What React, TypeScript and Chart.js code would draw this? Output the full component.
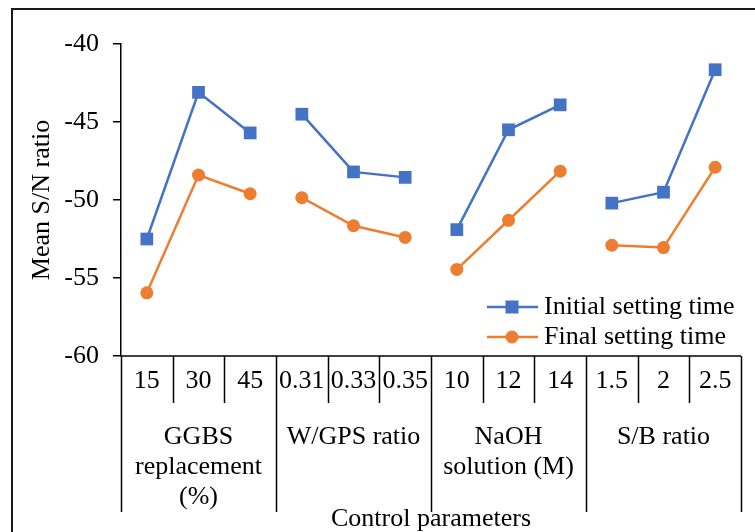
import React, { useEffect, useRef } from "react";
import { Chart, registerables } from "chart.js";

Chart.register(...registerables);

const levels = ["15", "30", "45", "0.31", "0.33", "0.35", "10", "12", "14", "1.5", "2", "2.5"];
const groups = [["GGBS", "replacement", "(%)"], ["W/GPS ratio"], ["NaOH", "solution (M)"], ["S/B ratio"]];
const initialSetting = [-52.5, -43.1, -45.7, -44.5, -48.2, -48.55, -51.9, -45.5, -43.9, -50.2, -49.5, -41.65];
const finalSetting = [-55.95, -48.4, -49.6, -49.85, -51.65, -52.4, -54.45, -51.3, -48.15, -52.9, -53.05, -47.9];
const yTicks = [-60, -55, -50, -45, -40];
const seriesNames = ["Initial setting time", "Final setting time"];
const xTitle = "Control parameters";
const yTitle = "Mean S/N ratio";

const BLUE = "#4472C4";
const ORANGE = "#ED7D31";
const FAMILY = "'Liberation Serif', 'Times New Roman', serif";
const FONT = "26px " + FAMILY;

const drawPlugin = {
  id: "customDraw",
  beforeDraw(chart: any) {
    const ctx = chart.ctx;
    ctx.save();
    ctx.fillStyle = "#ffffff";
    ctx.fillRect(0, 0, chart.width, chart.height);
    ctx.restore();
  },
  afterDraw(chart: any) {
    const ctx = chart.ctx;
    const area = chart.chartArea;
    const x = chart.scales.x;
    const n = levels.length;
    const step = (area.right - area.left) / n;
    ctx.save();
    // outer border
    ctx.strokeStyle = "#1a1a1a";
    ctx.lineWidth = 2;
    ctx.strokeRect(12, 9, 800, 600);
    // x axis line
    ctx.strokeStyle = "#000";
    ctx.lineWidth = 1.5;
    ctx.beginPath();
    ctx.moveTo(area.left, area.bottom);
    ctx.lineTo(area.right, area.bottom);
    ctx.stroke();
    // separators
    for (let i = 0; i <= n; i++) {
      const px = Math.round(x.getPixelForValue(i) - step / 2) + 0.5;
      const isGroup = i % 3 === 0;
      ctx.beginPath();
      ctx.moveTo(px, area.bottom);
      ctx.lineTo(px, isGroup ? area.bottom + 156 : area.bottom + 47);
      ctx.stroke();
    }
    // tick labels
    ctx.fillStyle = "#000";
    ctx.font = FONT;
    ctx.textAlign = "center";
    ctx.textBaseline = "middle";
    levels.forEach((lab, i) => {
      ctx.fillText(lab, x.getPixelForValue(i), area.bottom + 25);
    });
    // group labels
    groups.forEach((g, gi) => {
      const cx = x.getPixelForValue(gi * 3 + 1);
      g.forEach((line, li) => {
        ctx.fillText(line, cx, area.bottom + 81 + li * 30);
      });
    });
    // x title
    ctx.fillText(xTitle, (area.left + area.right) / 2, area.bottom + 163);
    // y title
    ctx.save();
    ctx.translate(42, (area.top + area.bottom) / 2);
    ctx.rotate(-Math.PI / 2);
    ctx.fillText(yTitle, 0, 0);
    ctx.restore();
    // legend
    const items = [
      { name: seriesNames[0], color: BLUE, style: "rect", y: 307 },
      { name: seriesNames[1], color: ORANGE, style: "circle", y: 337 },
    ];
    items.forEach((it) => {
      ctx.strokeStyle = it.color;
      ctx.lineWidth = 2.5;
      ctx.beginPath();
      ctx.moveTo(487, it.y);
      ctx.lineTo(538, it.y);
      ctx.stroke();
      ctx.fillStyle = it.color;
      if (it.style === "rect") {
        ctx.fillRect(512 - 6.5, it.y - 6.5, 13, 13);
      } else {
        ctx.beginPath();
        ctx.arc(512, it.y, 6.5, 0, Math.PI * 2);
        ctx.fill();
      }
      ctx.fillStyle = "#000";
      ctx.textAlign = "left";
      ctx.fillText(it.name, 544, it.y);
    });
    ctx.restore();
  },
};

function segColor(color: string) {
  return (c: any) => (c.p0DataIndex % 3 === 2 ? "rgba(0,0,0,0)" : color);
}

export default function App() {
  const ref = useRef<HTMLCanvasElement | null>(null);
  useEffect(() => {
    if (!ref.current) return;
    const chart = new Chart(ref.current, {
      type: "line",
      data: {
        labels: levels,
        datasets: [
          {
            label: seriesNames[0],
            data: initialSetting,
            borderColor: BLUE,
            backgroundColor: BLUE,
            borderWidth: 2.5,
            pointStyle: "rect",
            pointRadius: 9,
            pointHoverRadius: 9,
            pointBorderWidth: 0,
            segment: { borderColor: segColor(BLUE) },
          },
          {
            label: seriesNames[1],
            data: finalSetting,
            borderColor: ORANGE,
            backgroundColor: ORANGE,
            borderWidth: 2.5,
            pointStyle: "circle",
            pointRadius: 6.5,
            pointHoverRadius: 6.5,
            pointBorderWidth: 0,
            segment: { borderColor: segColor(ORANGE) },
          },
        ],
      },
      options: {
        responsive: false,
        animation: false,
        layout: { padding: { left: 0, top: 44, right: 14, bottom: 176 } },
        plugins: { legend: { display: false }, tooltip: { enabled: false } },
        scales: {
          x: { type: "category", display: false, offset: true },
          y: {
            min: yTicks[0],
            max: yTicks[yTicks.length - 1],
            afterFit: (s: any) => {
              s.width = 121;
            },
            afterBuildTicks: (s: any) => {
              s.ticks = yTicks.map((v) => ({ value: v }));
            },
            ticks: {
              color: "#000",
              font: { family: FAMILY, size: 26 },
              padding: 14,
            },
            grid: { drawOnChartArea: false, drawTicks: true, tickLength: 8, color: "#000", lineWidth: 1.5 },
            border: { color: "#000", width: 1.5 },
          },
        },
      },
      plugins: [drawPlugin],
    });
    return () => chart.destroy();
  }, []);
  return (
    <div style={{ position: "fixed", left: 0, top: 0, width: 755, height: 532, background: "#fff" }}>
      <canvas ref={ref} width={755} height={532} />
    </div>
  );
}
